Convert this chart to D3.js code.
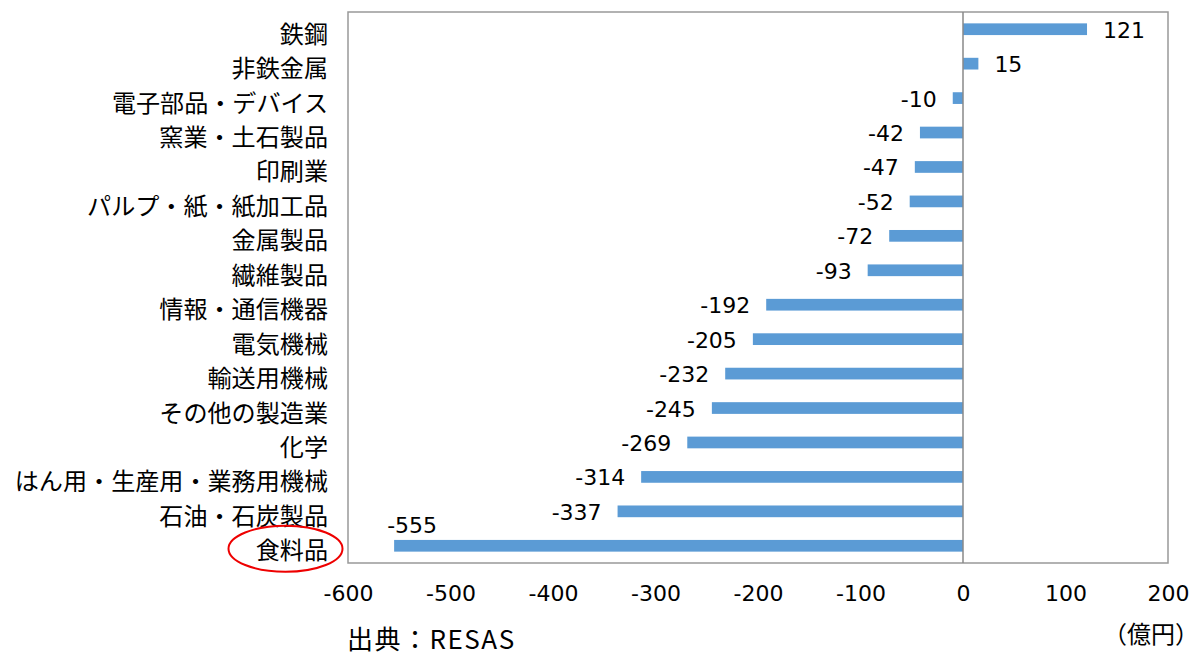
<!DOCTYPE html>
<html><head><meta charset="utf-8">
<script src="https://cdn.jsdelivr.net/npm/d3@7"></script>
<style>body{margin:0;background:#fff}</style>
</head><body>
<svg id="c" width="1199" height="658"></svg>
<script>
const categories = ["鉄鋼","非鉄金属","電子部品・デバイス","窯業・土石製品","印刷業","パルプ・紙・紙加工品","金属製品","繊維製品","情報・通信機器","電気機械","輸送用機械","その他の製造業","化学","はん用・生産用・業務用機械","石油・石炭製品","食料品"];
const values = [121,15,-10,-42,-47,-52,-72,-93,-192,-205,-232,-245,-269,-314,-337,-555];
const xTicks = [-600,-500,-400,-300,-200,-100,0,100,200];
const unitLabel = "（億円）";
const sourceLabel = "出典：RESAS";
const highlight = "食料品";

const svg = d3.select("#c");
const L = 348, R = 1168, T = 12, B = 563;
const x = d3.scaleLinear().domain([-600,200]).range([L,R]);
const y = d3.scaleBand().domain(categories).range([T,B]).paddingInner(0.66).paddingOuter(0.33);
const numFont = "'DejaVu Sans', Verdana, sans-serif";
const jpFont = "'Noto Sans CJK JP', sans-serif";

svg.append("rect").attr("x",L).attr("y",T).attr("width",R-L).attr("height",B-T)
  .attr("fill","#fff").attr("stroke","#999").attr("stroke-width",1.5);

svg.append("g").selectAll("rect").data(values).join("rect")
  .attr("x",(d)=>x(Math.min(0,d))).attr("width",d=>Math.abs(x(d)-x(0)))
  .attr("y",(d,i)=>y(categories[i])).attr("height",y.bandwidth())
  .attr("fill","#5B9BD5");

svg.append("line").attr("x1",x(0)).attr("x2",x(0)).attr("y1",T).attr("y2",B)
  .attr("stroke","#888").attr("stroke-width",1.5);

// value labels
svg.append("g").selectAll("text").data(values).join("text")
  .attr("font-family",numFont).attr("font-size",22).attr("fill","#000")
  .each(function(d,i){
    const cy = y(categories[i]) + y.bandwidth()/2;
    const t = d3.select(this).text(d);
    if (x(d) - 16 - 50 < L) {
      t.attr("x", x(d) + 18).attr("y", cy - 20).attr("text-anchor","middle").attr("dominant-baseline","central");
    } else if (d < 0) {
      t.attr("x", x(d) - 16).attr("y", cy + 1).attr("text-anchor","end").attr("dominant-baseline","central");
    } else {
      t.attr("x", x(d) + 16).attr("y", cy + 1).attr("text-anchor","start").attr("dominant-baseline","central");
    }
  });

// category labels
svg.append("g").selectAll("text").data(categories).join("text")
  .attr("x",328).attr("y",d=>y(d)+y.bandwidth()/2+3)
  .attr("text-anchor","end").attr("dominant-baseline","central")
  .attr("font-family",jpFont).attr("font-size",24.1).attr("fill","#000").text(d=>d);

// x axis
const ax = svg.append("g").attr("transform",`translate(0,${B})`)
  .call(d3.axisBottom(x).tickValues(xTicks).tickSize(0).tickPadding(22).tickFormat(d=>String(d)));
ax.select(".domain").remove();
ax.selectAll("text").attr("font-family",numFont).attr("font-size",22).attr("fill","#000");

svg.append("text").attr("x",1199).attr("y",632).attr("text-anchor","end").attr("dominant-baseline","central")
  .attr("font-family",jpFont).attr("font-size",24).text(unitLabel);
svg.append("text").attr("x",347).attr("y",637).attr("dominant-baseline","central")
  .attr("font-family",jpFont).attr("font-size",26).attr("letter-spacing",1.5).text(sourceLabel);

const hi = categories.indexOf(highlight);
svg.append("ellipse").attr("cx",285.5).attr("cy",y(categories[hi])+y.bandwidth()/2+3)
  .attr("rx",57).attr("ry",23).attr("fill","none").attr("stroke","#e00").attr("stroke-width",2);
</script>
</body></html>
